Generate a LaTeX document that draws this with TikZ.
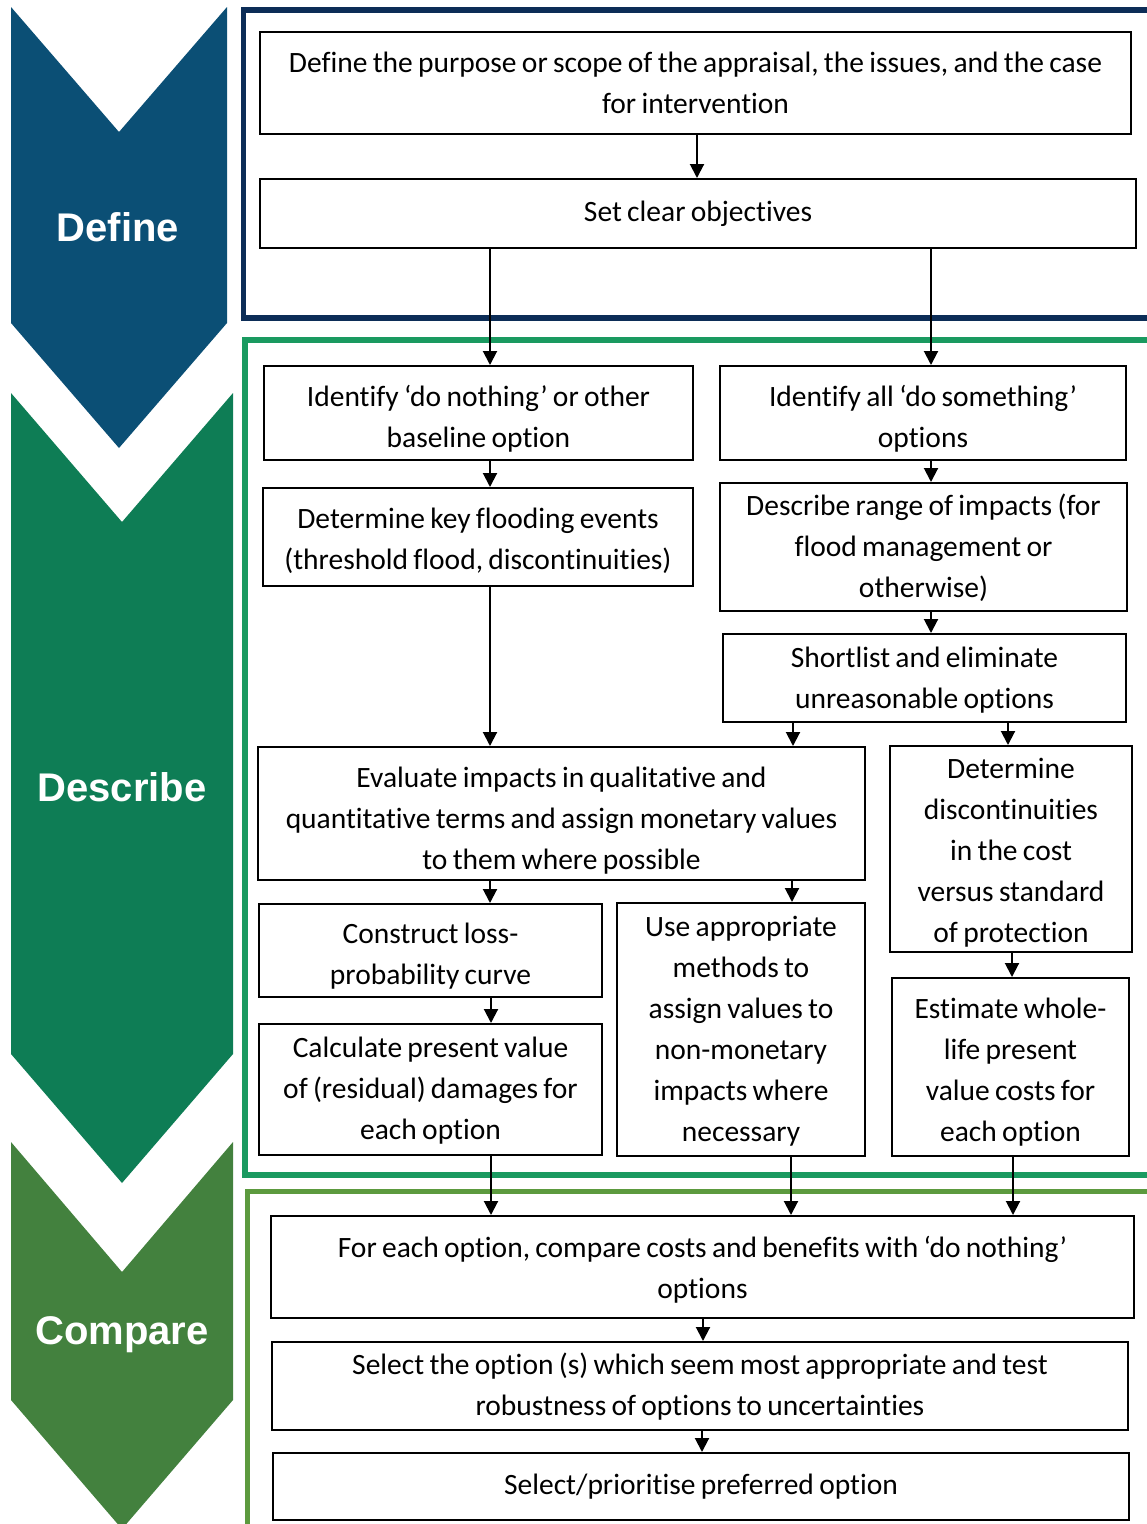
\documentclass[tikz,border=0pt]{standalone}
\usepackage{fontspec}
\setmainfont{Carlito}[Ligatures=NoCommon]
\newfontfamily\labfont{Liberation Sans}
\usetikzlibrary{arrows.meta,calc}
\definecolor{defc}{HTML}{0B4F75}
\definecolor{desc}{HTML}{0E7D55}
\definecolor{cmpc}{HTML}{43813E}
\definecolor{deff}{HTML}{0C2D57}
\definecolor{desf}{HTML}{1A9A60}
\definecolor{cmpf}{HTML}{5C9A3E}
\newcommand\conn[3]{\coordinate (tmpx) at (#3,0);\draw[arr] (#1.south -| tmpx) -- (#2.north -| tmpx);}
\newcommand\tightsp{\spaceskip=0.18em\relax\xspaceskip=0.18em\relax}
\def\tshv{0pt}
\begin{document}
\begin{tikzpicture}[x=1pt,y=-1pt,
  dy/.code={\def\tshv{#1}},
  stepbox/.style={draw=black,line width=2pt,inner sep=0pt,align=center,
    font=\fontsize{29.5}{41}\selectfont,execute at begin node={\tightsp\rule{0pt}{\tshv}}},
  arr/.style={line width=2pt,-{Triangle[length=14pt,width=14pt]}},
  lab/.style={text=white,font=\labfont\bfseries\fontsize{40}{40}\selectfont},
  frm/.style={line width=5.5pt}]
\useasboundingbox (0,0) rectangle (1147,1524);
\clip (0,0) rectangle (1147,1524);
% chevrons
\fill[defc] (11,7) -- (119,132) -- (227,7) -- (227,323) -- (119,448) -- (11,323) -- cycle;
\fill[desc] (11,393) -- (122,522) -- (233,393) -- (233,1054) -- (122,1183) -- (11,1054) -- cycle;
\fill[cmpc] (11,1142) -- (122,1272) -- (233,1142) -- (233,1400) -- (122,1529) -- (11,1400) -- cycle;
\node[lab] (ldef) at (118,227) {Define};
\node[lab] (ldes) at (122,787) {Describe};
\node[lab] (lcmp) at (122,1335) {Compare};
% frames
\draw[frm,deff] (1170,10) -- (243.5,10) -- (243.5,318) -- (1170,318);
\draw[frm,desf] (1170,340) -- (245,340) -- (245,1175) -- (1170,1175);
\draw[frm,cmpf] (1170,1191.5) -- (247.5,1191.5) -- (247.5,1560);
% boxes
\node[stepbox,minimum width=871,minimum height=102,text width=866] (b1) at (695.5,83)
  {Define the purpose or scope of the appraisal, the issues, and the case\\for intervention};
\node[stepbox,minimum width=876,minimum height=69,text width=860] (b2) at (698,213.5)
  {Set clear objectives};
\node[stepbox,dy=32.5pt,minimum width=429,minimum height=94,text width=424] (b3) at (478.5,413)
  {Identify ‘do nothing’ or other\\baseline option};
\node[stepbox,dy=32.5pt,minimum width=406,minimum height=94,text width=402] (b4) at (923,413)
  {Identify all ‘do something’\\options};
\node[stepbox,dy=28.5pt,minimum width=430,minimum height=98,text width=426] (b5) at (478,537)
  {Determine key flooding events\\(threshold flood, discontinuities)};
\node[stepbox,dy=23.6pt,minimum width=407,minimum height=128,text width=402] (b6) at (923.5,547)
  {Describe range of impacts (for\\flood management or\\otherwise)};
\node[stepbox,dy=24.5pt,minimum width=403,minimum height=88,text width=398] (b7) at (924.5,678)
  {Shortlist and eliminate\\unreasonable options};
\node[stepbox,dy=34.5pt,minimum width=607,minimum height=133,text width=602] (b8) at (561.5,813.5)
  {Evaluate impacts in qualitative and\\quantitative terms and assign monetary values\\to them where possible};
\node[stepbox,dy=28.5pt,minimum width=242,minimum height=206,text width=238] (b9) at (1011,849)
  {Determine\\discontinuities\\in the cost\\versus standard\\of protection};
\node[stepbox,dy=32.5pt,minimum width=343,minimum height=93,text width=338] (b10) at (430.5,950.5)
  {Construct loss-\\probability curve};
\node[stepbox,dy=23pt,minimum width=248,minimum height=253,text width=244] (b11) at (741,1029.5)
  {Use appropriate\\methods to\\assign values to\\non-monetary\\impacts where\\necessary};
\node[stepbox,dy=22.5pt,minimum width=343,minimum height=131,text width=338] (b12) at (430.5,1089.5)
  {Calculate present value\\of (residual) damages for\\each option};
\node[stepbox,dy=30.5pt,minimum width=237,minimum height=178,text width=233] (b13) at (1010.5,1067)
  {Estimate whole-\\life present\\value costs for\\each option};
\node[stepbox,dy=26.5pt,minimum width=863,minimum height=102,text width=858] (b14) at (702.5,1267)
  {For each option, compare costs and benefits with ‘do nothing’\\options};
\node[stepbox,dy=22.5pt,minimum width=856,minimum height=88,text width=850] (b15) at (700,1386)
  {Select the option (s) which seem most appropriate and test\\robustness of options to uncertainties};
\node[stepbox,minimum width=856,minimum height=67,text width=850] (b16) at (701,1486.5)
  {Select/prioritise preferred option};
% connectors
\conn{b1}{b2}{697}
\conn{b2}{b3}{490}
\conn{b2}{b4}{931}
\conn{b3}{b5}{490}
\conn{b4}{b6}{931}
\conn{b6}{b7}{931}
\conn{b5}{b8}{490}
\conn{b7}{b8}{793}
\conn{b7}{b9}{1008}
\conn{b8}{b10}{490}
\conn{b8}{b11}{792}
\conn{b10}{b12}{491}
\conn{b9}{b13}{1012}
\conn{b12}{b14}{491}
\conn{b11}{b14}{791}
\conn{b13}{b14}{1013}
\conn{b14}{b15}{703}
\conn{b15}{b16}{702}
\end{tikzpicture}
\end{document}
